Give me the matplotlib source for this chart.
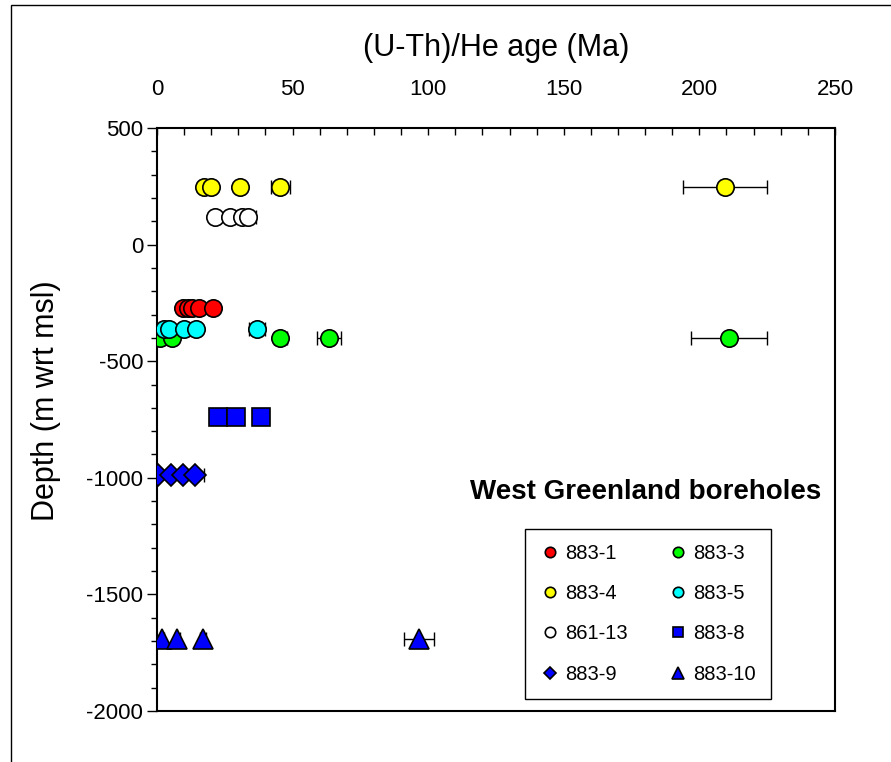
import matplotlib
matplotlib.use("Agg")
import matplotlib.pyplot as plt
from matplotlib.patches import Rectangle
from matplotlib.ticker import MultipleLocator

plt.rcParams['font.family'] = ['Liberation Sans', 'DejaVu Sans']
plt.rcParams['axes.unicode_minus'] = False

# (U-Th)/He ages (Ma), 1-sigma errors and sample depth (m wrt msl)
labels = ['883-1', '883-3', '883-4', '883-5', '861-13', '883-8', '883-9', '883-10']
depths = [-270, -400, 245, -360, 120, -740, -990, -1690]
ages = [
    [9.5, 11.5, 13.0, 15.5, 20.5],
    [1.0, 5.5, 45.5, 63.5, 211.0],
    [17.5, 20.0, 30.5, 45.5, 209.5],
    [2.5, 4.5, 10.0, 14.5, 37.0],
    [21.5, 27.0, 31.5, 33.5],
    [22.5, 29.0, 38.5],
    [0.5, 5.0, 9.5, 14.0],
    [2.0, 7.5, 17.0, 96.5],
]
errors = [
    [1.0, 1.0, 1.0, 1.0, 1.0],
    [0.5, 1.0, 2.5, 4.5, 14.0],
    [1.0, 1.5, 1.5, 3.5, 15.5],
    [0.5, 0.5, 1.0, 1.5, 3.0],
    [1.0, 1.0, 1.5, 3.0],
    [1.0, 1.0, 1.0],
    [0.5, 0.5, 1.0, 3.5],
    [0.5, 1.0, 1.0, 5.5],
]
colors = ['#FF0000', '#00FF00', '#FFFF00', '#00FFFF', '#FFFFFF', '#0000FF', '#0000FF', '#0000FF']
markers = ['o', 'o', 'o', 'o', 'o', 's', 'D', '^']
sizes = [12.5, 12.5, 12.5, 12.5, 12.5, 12.5, 11, 14]

fig = plt.figure(figsize=(8.91, 7.62), dpi=100)
ax = fig.add_axes([0.1762, 0.0669, 0.7609, 0.7651])

# thin frame round the whole chart area
fig.patches.append(Rectangle((11 / 891, -0.05), 1.0, 1.05 - 5 / 762,
                             transform=fig.transFigure, fill=False,
                             edgecolor='black', linewidth=1.0))

for i in range(len(labels)):
    y = [depths[i]] * len(ages[i])
    ax.errorbar(ages[i], y, xerr=errors[i], fmt='none', ecolor='black',
                elinewidth=1.0, capsize=5, capthick=1.0, zorder=2)
    ax.plot(ages[i], y, linestyle='none', marker=markers[i], ms=sizes[i],
            mfc=colors[i], mec='black', mew=1.2, label=labels[i], zorder=3)

ax.set_xlim(0, 250)
ax.set_ylim(-2000, 500)

ax.xaxis.tick_top()
ax.xaxis.set_label_position('top')
ax.xaxis.set_major_locator(MultipleLocator(50))
ax.xaxis.set_minor_locator(MultipleLocator(10))
ax.yaxis.set_major_locator(MultipleLocator(500))
ax.yaxis.set_minor_locator(MultipleLocator(100))
ax.tick_params(axis='x', which='both', direction='in', labelsize=16, pad=20)
ax.tick_params(axis='x', which='major', length=5, width=1)
ax.tick_params(axis='x', which='minor', length=5, width=1)
ax.tick_params(axis='y', which='both', direction='out', labelsize=16, pad=3)
ax.tick_params(axis='y', which='major', length=7, width=1)
ax.tick_params(axis='y', which='minor', length=4, width=1)

for sp in ax.spines.values():
    sp.set_linewidth(1.5)

ax.set_xlabel('(U-Th)/He age (Ma)', fontsize=22, labelpad=17)
ax.set_ylabel('Depth (m wrt msl)', fontsize=22)
ax.yaxis.set_label_coords(-0.141, 0.533)

ax.text(0.72, 0.376, 'West Greenland boreholes', transform=ax.transAxes,
        ha='center', va='center', fontsize=20, fontweight='bold')

# legend order follows the two-column layout, read row by row
handles, names = ax.get_legend_handles_labels()
order = [0, 2, 4, 6, 1, 3, 5, 7]
leg = ax.legend([handles[k] for k in order], [names[k] for k in order],
                ncol=2, loc='upper left', bbox_to_anchor=(0.5428, 0.3122),
                borderaxespad=0, borderpad=0.75, fontsize=14.5,
                markerscale=0.6, handletextpad=0.25, handlelength=1.0,
                labelspacing=1.05, columnspacing=2.0,
                fancybox=False, edgecolor='black', framealpha=1)
leg.get_frame().set_linewidth(1.0)

fig.savefig('out.png', dpi=100)
